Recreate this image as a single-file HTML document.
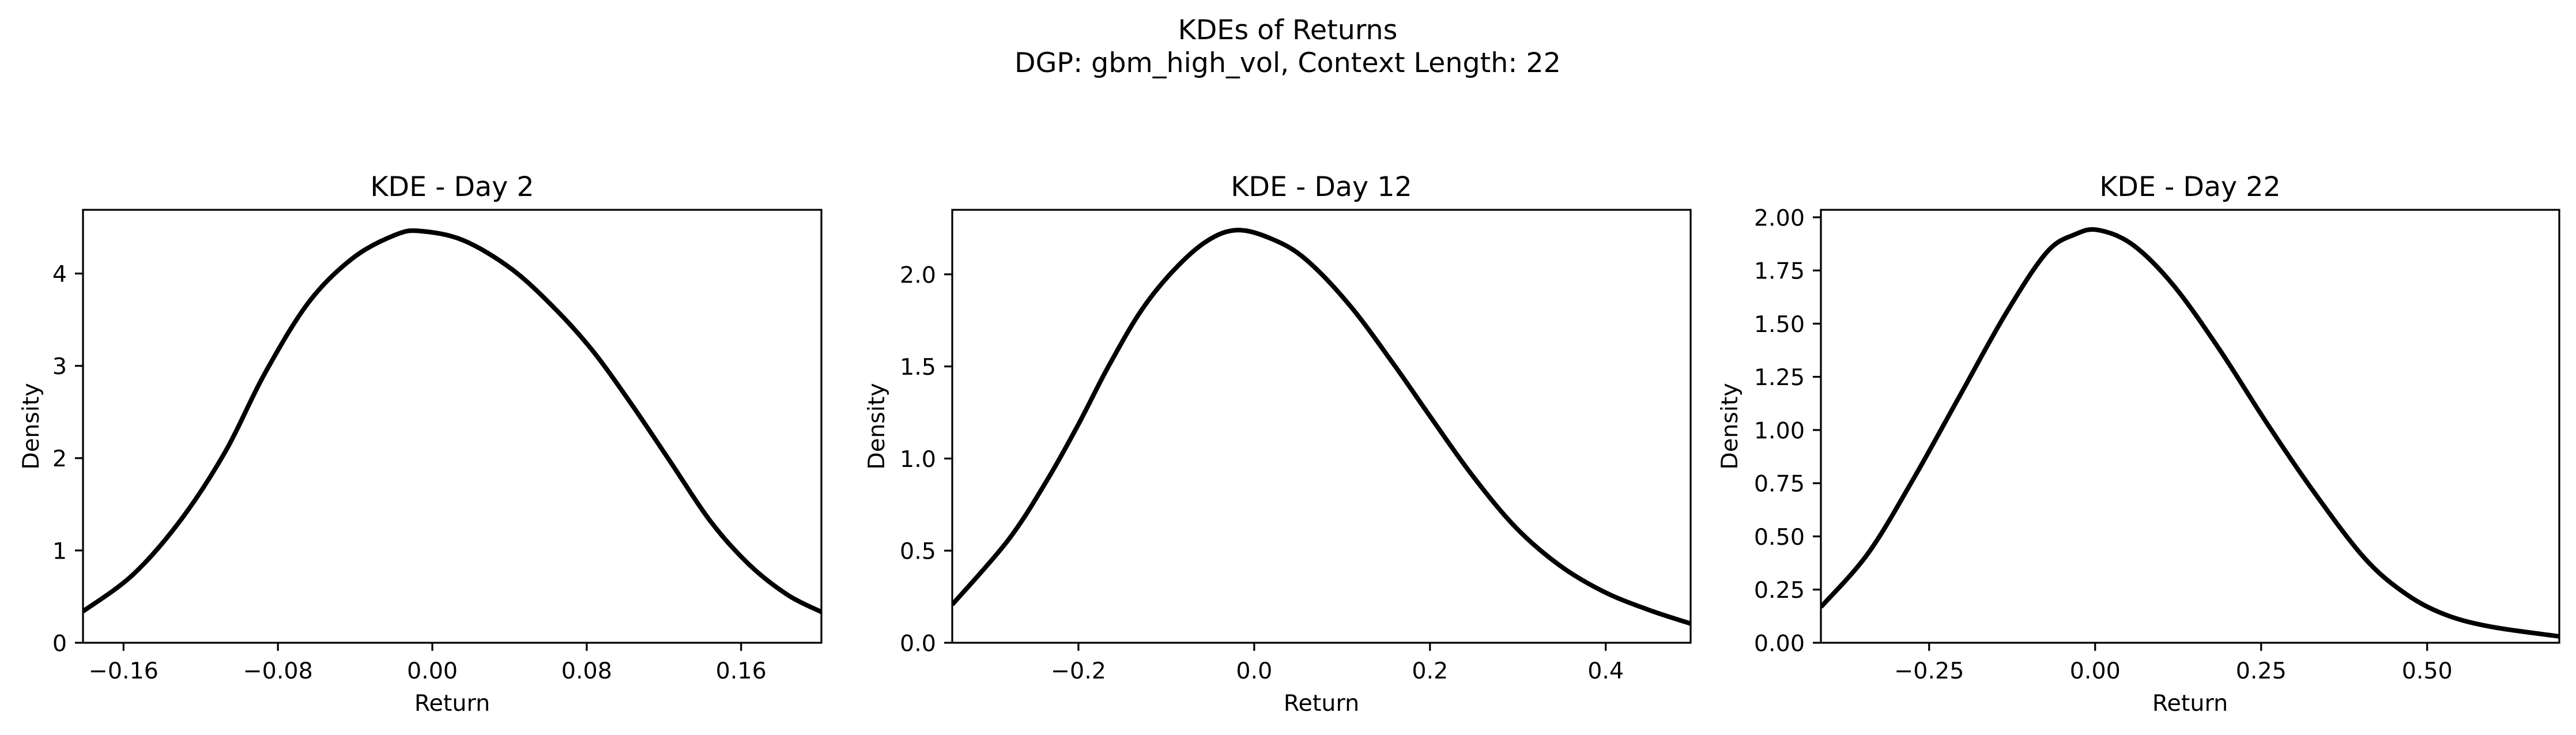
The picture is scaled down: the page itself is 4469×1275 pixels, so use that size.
<!DOCTYPE html>
<html><head><meta charset="utf-8"><style>
html,body{margin:0;padding:0;background:#fff}
svg{display:block}
text{font-family:"DejaVu Sans","Liberation Sans",sans-serif;fill:#000}
</style></head><body>
<svg id="fig" width="4469" height="1275" viewBox="0 0 4469 1275" xmlns="http://www.w3.org/2000/svg">
<text x="2234" y="68" font-size="47.5" text-anchor="middle">KDEs of Returns</text>
<text x="2234" y="125" font-size="47.5" text-anchor="middle">DGP: gbm_high_vol, Context Length: 22</text>
</svg>
<script>
// Panel 1 data (Day 2)
const day2X = [-0.181,-0.155,-0.13,-0.107,-0.087,-0.064,-0.041,-0.019,-0.006,0.016,0.041,0.064,0.084,0.104,0.124,0.144,0.164,0.184,0.202];
const day2Y = [0.34,0.74,1.34,2.08,2.91,3.69,4.17,4.42,4.46,4.36,4.05,3.61,3.14,2.56,1.94,1.32,0.85,0.52,0.33];
const day2XTicks = [-0.16,-0.08,0.00,0.08,0.16];
const day2XTickLabels = ["\u22120.16","\u22120.08","0.00","0.08","0.16"];
const day2YTicks = [0,1,2,3,4];
const day2YTickLabels = ["0","1","2","3","4"];
// Panel 2 data (Day 12)
const day12X = [-0.3436,-0.28,-0.236,-0.2,-0.167,-0.129,-0.092,-0.054,-0.019,0.021,0.059,0.109,0.159,0.2,0.247,0.297,0.347,0.397,0.448,0.4966];
const day12Y = [0.207,0.557,0.88,1.186,1.49,1.80,2.02,2.18,2.24,2.19,2.08,1.83,1.51,1.23,0.916,0.629,0.422,0.279,0.18,0.104];
const day12XTicks = [-0.2,0.0,0.2,0.4];
const day12XTickLabels = ["\u22120.2","0.0","0.2","0.4"];
const day12YTicks = [0,0.5,1.0,1.5,2.0];
const day12YTickLabels = ["0.0","0.5","1.0","1.5","2.0"];
// Panel 3 data (Day 22)
const day22X = [-0.413,-0.342,-0.273,-0.204,-0.134,-0.073,-0.03,0.005,0.057,0.118,0.187,0.257,0.326,0.404,0.465,0.525,0.595,0.699];
const day22Y = [0.168,0.42,0.774,1.16,1.55,1.835,1.92,1.94,1.87,1.68,1.38,1.04,0.724,0.404,0.236,0.135,0.076,0.03];
const day22XTicks = [-0.25,0,0.25,0.5];
const day22XTickLabels = ["\u22120.25","0.00","0.25","0.50"];
const day22YTicks = [0,0.25,0.5,0.75,1.0,1.25,1.5,1.75,2.0];
const day22YTickLabels = ["0.00","0.25","0.50","0.75","1.00","1.25","1.50","1.75","2.00"];

const NS="http://www.w3.org/2000/svg";
const fig=document.getElementById('fig');
function mk(tag,attrs,parent){const e=document.createElementNS(NS,tag);for(const k in attrs)e.setAttribute(k,attrs[k]);(parent||fig).appendChild(e);return e;}

const panels=[
 {title:"KDE - Day 2",left:144,right:1425,xmin:-0.181,xmax:0.2016,ymax:4.69,xs:day2X,ys:day2Y,xt:day2XTicks,xl:day2XTickLabels,yt:day2YTicks,yl:day2YTickLabels,ylabX:53},
 {title:"KDE - Day 12",left:1652,right:2933,xmin:-0.3436,xmax:0.4966,ymax:2.35,xs:day12X,ys:day12Y,xt:day12XTicks,xl:day12XTickLabels,yt:day12YTicks,yl:day12YTickLabels,ylabX:1520},
 {title:"KDE - Day 22",left:3159,right:4440,xmin:-0.413,xmax:0.699,ymax:2.035,xs:day22X,ys:day22Y,xt:day22XTicks,xl:day22XTickLabels,yt:day22YTicks,yl:day22YTickLabels,ylabX:3000}
];
const axTop=364,axBottom=1115;
panels.forEach((p,i)=>{
  const g=mk('g',{});
  
  
  const sx=v=>p.left+(v-p.xmin)/(p.xmax-p.xmin)*(p.right-p.left);
  const sy=v=>axBottom-v/p.ymax*(axBottom-axTop);
  const cp=mk('clipPath',{id:'clip'+i},g);
  mk('rect',{x:p.left,y:axTop,width:p.right-p.left,height:axBottom-axTop},cp);
  const pts=p.xs.map((x,k)=>[sx(x),sy(p.ys[k])]);
  let d='M'+pts[0][0]+','+pts[0][1];
  for(let k=0;k<pts.length-1;k++){
    const p0=pts[Math.max(k-1,0)],p1=pts[k],p2=pts[k+1],p3=pts[Math.min(k+2,pts.length-1)];
    const c1=[p1[0]+(p2[0]-p0[0])/6,p1[1]+(p2[1]-p0[1])/6];
    const c2=[p2[0]-(p3[0]-p1[0])/6,p2[1]-(p3[1]-p1[1])/6];
    d+=` C${c1[0]},${c1[1]} ${c2[0]},${c2[1]} ${p2[0]},${p2[1]}`;
  }
  const path=mk('path',{d:d,fill:'none',stroke:'#000','stroke-width':8,'stroke-linejoin':'round','clip-path':'url(#clip'+i+')'},g);
  
  
  const frame=mk('rect',{x:p.left,y:axTop,width:p.right-p.left,height:axBottom-axTop,fill:'none',stroke:'#000','stroke-width':3.2},g);
  
  
  p.xt.forEach((v,k)=>{
    const x=sx(v);
    mk('line',{x1:x,x2:x,y1:axBottom,y2:axBottom+14,stroke:'#000','stroke-width':3.2},g);
    const t=mk('text',{x:x,y:axBottom+62,'font-size':39.6,'text-anchor':'middle'},g);
    
    
    t.textContent=p.xl[k];
  });
  p.yt.forEach((v,k)=>{
    const y=sy(v);
    mk('line',{x1:p.left-14,x2:p.left,y1:y,y2:y,stroke:'#000','stroke-width':3.2},g);
    const t=mk('text',{x:p.left-28,y:y+14.5,'font-size':39.6,'text-anchor':'end'},g);
    
    
    t.textContent=p.yl[k];
  });
  const ti=mk('text',{x:(p.left+p.right)/2,y:340,'font-size':47.5,'text-anchor':'middle'},g);
  
  
  ti.textContent=p.title;
  const xl=mk('text',{x:(p.left+p.right)/2,y:1233,'font-size':39.6,'text-anchor':'middle'},g);
  
  
  xl.textContent='Return';
  const cy=(axTop+axBottom)/2;
  const yl=mk('text',{x:p.ylabX,y:cy,'font-size':39.6,'text-anchor':'middle',transform:`rotate(-90 ${p.ylabX} ${cy})`,dy:'14'},g);
  
  
  yl.textContent='Density';
});
</script>
</body></html>
